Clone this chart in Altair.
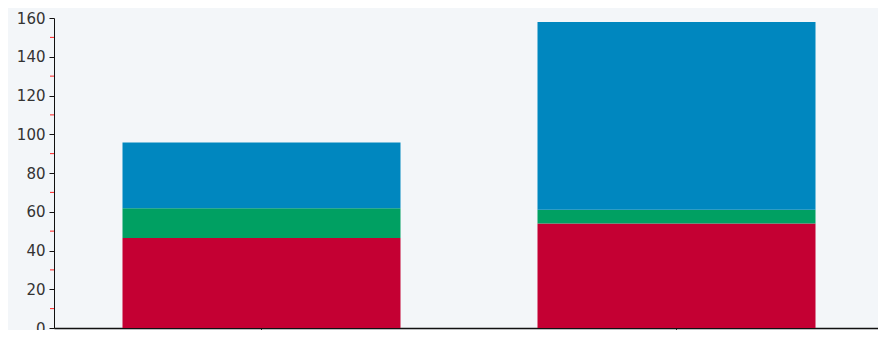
import altair as alt
import pandas as pd

categories = ["A", "B"]
series = ["Red", "Green", "Blue"]
red_values = [46.5, 54.0]
green_values = [15.3, 7.0]
blue_values = [34.0, 97.0]
colors = ["#c40033", "#00a062", "#0087bf"]

rows = []
for i, c in enumerate(categories):
    for j, (s, vals) in enumerate(zip(series, [red_values, green_values, blue_values])):
        rows.append({"category": c, "series": s, "value": vals[i], "order": j})
df = pd.DataFrame(rows)

major = [0, 20, 40, 60, 80, 100, 120, 140, 160]
minor = [10, 30, 50, 70, 90, 110, 130, 150]

yscale = alt.Scale(domain=[0, 160], nice=False)

bars = alt.Chart(df).mark_bar(size=278).encode(
    x=alt.X("category:N", sort=categories, title=None,
            scale=alt.Scale(paddingInner=0.33, paddingOuter=0.165),
            axis=alt.Axis(labels=False, domainColor="#111111", domainWidth=1.5,
                          tickColor="#333333", tickSize=4)),
    y=alt.Y("value:Q", stack="zero", title=None, scale=yscale,
            axis=alt.Axis(values=major, grid=False, domainColor="#111111",
                          tickColor="#111111", tickSize=5, labelPadding=4,
                          labelOverlap=False, labelFlush=False, labelBound=False,
                          labelFont="DejaVu Sans", labelFontSize=15,
                          labelColor="#333333")),
    color=alt.Color("series:N", sort=series,
                    scale=alt.Scale(domain=series, range=colors), legend=None),
    order=alt.Order("order:Q"),
)

minor_layer = alt.Chart(pd.DataFrame({"v": minor})).mark_rule(
    color="#ff2020", strokeWidth=1
).encode(
    y=alt.Y("v:Q", scale=yscale, axis=None),
    x=alt.value(-4),
    x2=alt.value(0),
)

chart = alt.layer(bars, minor_layer).resolve_axis(y="independent").properties(
    width=830, height=310,
    autosize=alt.AutoSizeParams(type="none"),
    padding={"left": 46, "top": 10, "right": -6, "bottom": 2},
    background="#f3f6f9",
).configure_view(stroke=None)

chart.save("out.html", embed_options={"renderer": "svg", "actions": False})
